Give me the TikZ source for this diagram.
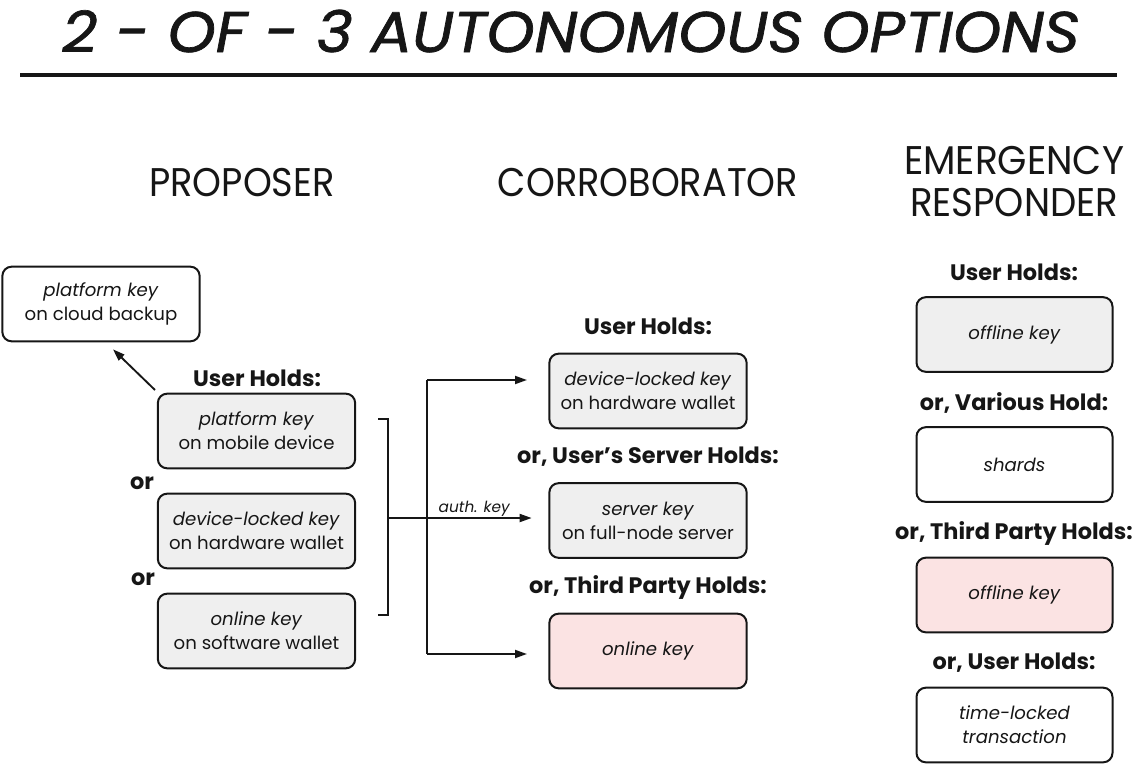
\documentclass[tikz,border=0pt]{standalone}
\usepackage{fontspec}
\setmainfont{Poppins}
\newfontfamily\titlefont{Poppins}[FakeBold=1.2]
\usepackage{graphicx}
\usetikzlibrary{arrows.meta}
\definecolor{boxgray}{HTML}{EFEFEF}
\definecolor{boxpink}{HTML}{FBE3E3}
\definecolor{ink}{HTML}{161616}
\newcommand{\hdr}[2]{\resizebox{#1}{\height}{\fontsize{30}{30}\selectfont #2}}
\begin{document}
\begin{tikzpicture}[x=0.75pt,y=-0.75pt,
  keybox/.style={draw=ink, line width=1.5pt, rounded corners=7pt,
    minimum width=148pt, minimum height=56pt, align=center, inner sep=0pt,
    font=\fontsize{13.6}{18}\selectfont, text=ink},
  graybox/.style={keybox, fill=boxgray},
  pinkbox/.style={keybox, fill=boxpink},
  whitebox/.style={keybox, fill=white},
  holdlbl/.style={font=\fontsize{16.8}{19}\selectfont\bfseries, text=ink, inner sep=0pt},
  arr/.style={draw=ink, line width=1.4pt, -{Triangle[length=9pt,width=6pt]}},
  ln/.style={draw=ink, line width=1.4pt}
]
\useasboundingbox (0,0) rectangle (1136,764);

% title
\node[anchor=base, inner sep=0pt, text=ink] (title) at (571,52)
  {\resizebox{763pt}{\height}{\titlefont\fontsize{43}{43}\selectfont\itshape 2 - OF - 3 AUTONOMOUS OPTIONS}};
\coordinate (r1) at (20,75);
\coordinate (r2) at (1117,75);
\draw[ink, line width=2.3pt] (r1) -- (r2);

% headers
\node[anchor=base, inner sep=0pt, text=ink] (hP) at (242,196) {\hdr{139pt}{PROPOSER}};
\node[anchor=base, inner sep=0pt, text=ink] (hC) at (648,196) {\hdr{225pt}{CORROBORATOR}};
\node[anchor=base, inner sep=0pt, text=ink] (hE1) at (1014,174) {\hdr{165pt}{EMERGENCY}};
\node[anchor=base, inner sep=0pt, text=ink] (hE2) at (1014,216) {\hdr{156pt}{RESPONDER}};

% proposer
\node[whitebox] (cloud) at (101,304) {\textit{platform key}\\on cloud backup};
\node[holdlbl] (pu) at (257,378) {User Holds:};
\node[graybox] (p1) at (256.5,431) {\textit{platform key}\\on mobile device};
\node[holdlbl] (or1) at (142,483) {or};
\node[graybox] (p2) at (256.5,531) {\textit{device-locked key}\\on hardware wallet};
\node[holdlbl] (or2) at (143,579) {or};
\node[graybox] (p3) at (256.5,631) {\textit{online key}\\on software wallet};

\coordinate (a0) at (155,390);
\draw[arr] (a0) -- ([shift={(12,7)}]cloud.south);

% bracket
\coordinate (b1) at (378,419);
\coordinate (b2) at (388,615);
\coordinate (b3) at (378,615);
\coordinate (bm) at (388,518);
\draw[ln] (b1) -| (b2) -- (b3);

% corroborator
\node[holdlbl] (cu) at (648,326) {User Holds:};
\node[graybox] (c1) at (648,391) {\textit{device-locked key}\\on hardware wallet};
\node[holdlbl] (cs) at (648,457) {or, User’s Server Holds:};
\node[graybox] (c2) at (648,520.5) {\textit{server key}\\on full-node server};
\node[holdlbl] (ct) at (648,587) {or, Third Party Holds:};
\node[pinkbox] (c3) at (648,651) {\textit{online key}};

\coordinate (t1) at (427,380);
\coordinate (t2) at (427,654);
\draw[ln] (t1) -- (t2);
\draw[arr] (t1) -- ([xshift=-16pt]c1.west |- t1);
\draw[arr] (t2) -- ([xshift=-16pt]c3.west |- t2);
\draw[arr] (bm) -- node[pos=0.6, above=-3pt, font=\fontsize{11.5}{13}\selectfont\itshape, text=ink] (ak) {auth. key} ([xshift=-12.5pt]c2.west |- bm);

% emergency
\node[holdlbl] (eu) at (1014,272) {User Holds:};
\node[graybox, minimum width=147pt] (e1) at (1014.5,334.5) {\textit{offline key}};
\node[holdlbl] (ev) at (1014,403) {or, Various Hold:};
\node[whitebox, minimum width=147pt] (e2) at (1014.5,464.5) {\textit{shards}};
\node[holdlbl] (et) at (1014,533) {or, Third Party Holds:};
\node[pinkbox, minimum width=147pt] (e3) at (1014.5,595) {\textit{offline key}};
\node[holdlbl] (eo) at (1014,663) {or, User Holds:};
\node[whitebox, minimum width=147pt] (e4) at (1014.5,725) {\textit{time-locked}\\\textit{transaction}};
\end{tikzpicture}
\end{document}
